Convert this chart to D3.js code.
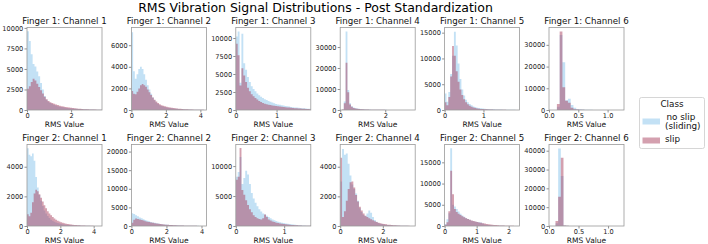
<!DOCTYPE html>
<html>
<head>
<meta charset="utf-8">
<script src="https://cdn.jsdelivr.net/npm/d3@7"></script>
<style>
body { margin: 0; background: #fff; }
svg { display: block; font-family: "DejaVu Sans", sans-serif; }
</style>
</head>
<body>
<div id="chart"></div>
<script>
// panel titles, row by row
var titles = ["Finger 1: Channel 1", "Finger 1: Channel 2", "Finger 1: Channel 3",
              "Finger 1: Channel 4", "Finger 1: Channel 5", "Finger 1: Channel 6",
              "Finger 2: Channel 1", "Finger 2: Channel 2", "Finger 2: Channel 3",
              "Finger 2: Channel 4", "Finger 2: Channel 5", "Finger 2: Channel 6"];
var classes = ["no slip (sliding)", "slip"];

// axis limits and ticks
var xMax = [3.4, 4.35, 1.84, 3.33, 1.93, 1.28, 4.5, 4.28, 1.55, 3.52, 2.34, 1.27];
var yMax = [10050, 7640, 11460, 39300, 16000, 38000, 5500, 21900, 13600, 5500, 19200, 43300];
var xTicks = [[0, 2], [0, 2, 4], [0, 1], [0, 2], [0, 1], [0, 0.5, 1],
              [0, 2, 4], [0, 2, 4], [0, 1], [0, 2], [0, 1, 2], [0, 0.5, 1]];
var yTicks = [[0, 2500, 5000, 7500, 10000], [0, 2000, 4000, 6000], [0, 2500, 5000, 7500, 10000],
              [0, 10000, 20000, 30000], [0, 5000, 10000, 15000], [0, 10000, 20000, 30000],
              [0, 2000, 4000], [0, 5000, 10000, 15000, 20000], [0, 5000, 10000],
              [0, 2000, 4000], [0, 5000, 10000, 15000], [0, 10000, 20000, 30000, 40000]];

// histogram bins: first edge and width
var binStart = [0, 0, 0, 0, 0, 0.135, 0, 0, 0, 0, 0, 0.11];
var binWidth = [0.085, 0.1, 0.046, 0.08, 0.048, 0.047, 0.1, 0.107, 0.039, 0.088, 0.0585, 0.045];

// counts per bin
var noSlipF1C1 = [9600,8400,6800,5600,5300,4700,4100,3300,2500,1700,1250,1000,850,720,620,540,470,410,360,320,280,250,220,200,180,160,140,125,110,100,90,80,70,62,55,48,40,35,30,25];
var slipF1C1 = [2600,2900,3400,3800,3600,3200,2800,2400,2000,1600,1300,1100,950,850,750,680,600,530,470,420,370,330,290,260,230,200,180,160,140,120,105,95,85,75,65,55,48,40,32,25];
var noSlipF1C2 = [7200,3600,2900,3300,3800,4000,3800,3300,2800,2300,1900,1500,1150,900,700,550,450,380,320,280,240,210,180,160,140,120,105,92,80,70,60,52,45,40,35,30,26,22,19,16,14,12,10];
var slipF1C2 = [1750,1500,1450,1700,2000,2300,2400,2300,2150,1900,1650,1400,1150,950,780,640,530,450,390,340,300,260,230,200,180,160,140,120,105,92,80,70,60,52,45,38,32,28,24,20,16,13,10];
var noSlipF1C3 = [10200,10900,3800,10600,6500,5600,4600,3900,3300,2900,2600,2300,2050,1850,1650,1500,1380,1250,1130,1030,930,850,780,720,660,610,560,510,470,430,390,360,330,300,270,250,230,210,190,170];
var slipF1C3 = [9200,7600,3400,5800,4800,3900,3100,2600,2200,1900,1650,1450,1250,1100,980,880,800,730,680,630,590,550,510,480,450,420,390,360,330,300,280,260,240,220,200,180,160,145,130,115];
var noSlipF1C4 = [0,150,4000,37400,9500,3200,1800,1200,900,700,560,460,380,320,270,230,200,175,150,130,115,100,90,80,72,65,58,52,47,42,38,34,31,28,25,22,20,18,16,14,12,10];
var slipF1C4 = [0,200,3200,22500,8500,2600,1500,1000,750,600,480,400,330,280,240,200,175,150,130,115,100,88,78,70,62,56,50,45,40,36,32,29,26,23,21,19,17,15,13,12,10,8];
var noSlipF1C5 = [3200,1600,3500,7000,10500,15200,12500,9000,6000,4000,2800,2000,1500,1150,900,700,560,460,380,320,280,240,210,185,160,140,125,110,95,85,75,65,58,50,44,38,33,28,24,20];
var slipF1C5 = [1500,900,2500,6500,12400,10500,7500,5500,4000,2900,2100,1500,1100,820,620,480,380,300,250,210,180,150,130,110,95,82,70,60,52,45,38,32,28,24,20,17,14,12,10,8];
var noSlipF1C6 = [1500,34500,22000,4500,5200,2300,1000,500,300,200,130,90,60,45,35,28,22,18,14,11,9,7,5,4];
var slipF1C6 = [2800,36200,10500,4300,3300,1000,400,200,120,80,50,35,25,18,14,10,8,6,5,4,3,2,2,1];
var noSlipF2C1 = [5250,4800,4700,4900,4400,3300,2600,2100,1700,1350,1050,850,680,540,430,350,290,240,200,170,145,125,105,90,78,66,56,48,41,35,30,26,22,19,16,14,12,10,8,7,6,5,4,3,2];
var slipF2C1 = [800,650,900,1600,2200,2450,2350,2150,1900,1650,1400,1200,1000,850,720,600,500,420,360,310,260,220,190,160,140,120,100,85,72,62,52,44,37,31,26,22,18,15,12,10,8,6,5,4,3];
var noSlipF2C2 = [3400,3200,2900,2600,2300,2050,1800,1600,1400,1250,1100,960,840,730,640,560,490,430,380,330,290,255,225,195,170,150,130,115,100,88,76,66,57,50,43,37,32,28,24,20];
var slipF2C2 = [900,1700,2000,1900,1750,1600,1450,1300,1150,1050,950,850,760,680,600,530,470,410,360,320,280,245,215,185,160,140,120,105,90,78,67,57,49,42,36,31,26,22,18,15];
var noSlipF2C3 = [8200,9000,11500,7000,8000,9200,8600,7000,5500,4600,3900,3300,2800,2400,2100,1900,1700,1500,1300,1100,950,820,720,630,560,490,430,370,320,280,240,200,170,140,115,95,75,60,45,35];
var slipF2C3 = [7700,8200,13000,6000,5200,4300,3500,2800,2300,1800,1500,1300,1150,1100,1300,1900,1500,1100,900,750,650,560,480,420,370,320,280,240,210,180,150,125,105,85,70,55,45,35,28,22];
var noSlipF2C4 = [3000,5200,4800,4900,4200,3400,2800,2500,2200,1700,1200,950,750,650,850,1050,900,600,400,280,200,160,130,105,85,70,58,48,40,33,27,22,18,15,12,10,8,6,5,4];
var slipF2C4 = [4600,600,1000,1700,2500,2950,3000,2600,2100,1650,1300,1050,850,700,600,520,450,380,320,270,220,185,155,130,110,92,77,64,53,44,36,30,25,20,16,13,10,8,6,5];
var noSlipF2C5 = [500,1600,3000,18300,5000,4600,4000,3400,2900,2500,2200,1900,1650,1450,1250,1100,1000,920,880,850,600,380,280,220,170,130,100,80,62,50,40,32,25,20,16,12,10,8,6,5];
var slipF2C5 = [300,900,3500,13000,7500,4000,3300,2900,2600,2300,2050,1850,1650,1480,1320,1180,1050,930,830,740,650,560,480,410,350,300,250,210,175,145,120,100,82,66,53,42,33,26,20,15];
var noSlipF2C6 = [1500,41200,26500,300,100,50,30,20,15,10,8,6,5,4,3,3,2,2,2,1,1,1,1,1,1];
var slipF2C6 = [2700,15500,36200,200,80,40,25,15,10,8,6,5,4,3,2,2,2,1,1,1,1,1,1,1,1];

var noSlip = [noSlipF1C1, noSlipF1C2, noSlipF1C3, noSlipF1C4, noSlipF1C5, noSlipF1C6,
              noSlipF2C1, noSlipF2C2, noSlipF2C3, noSlipF2C4, noSlipF2C5, noSlipF2C6];
var slip = [slipF1C1, slipF1C2, slipF1C3, slipF1C4, slipF1C5, slipF1C6,
            slipF2C1, slipF2C2, slipF2C3, slipF2C4, slipF2C5, slipF2C6];

var colors = ["rgba(135,195,235,0.5)", "rgba(170,65,95,0.5)"];

var svg = d3.select("#chart").append("svg")
            .attr("width", 708)
            .attr("height", 244);

svg.append("text")
   .attr("x", 315.5)
   .attr("y", 12)
   .attr("text-anchor", "middle")
   .attr("font-size", 12.5)
   .attr("fill", "#000")
   .text("RMS Vibration Signal Distributions - Post Standardization");

var panelW = 75;
var rowTop = [27.5, 144.5];
var rowBottom = [110, 226];

for (var i = 0; i < 12; i++) {
	drawPanel(i);
}

function drawPanel(i) {
	var row = Math.floor(i / 6), col = i % 6;
	var left = 27 + col * 104.4;
	var top = rowTop[row], bottom = rowBottom[row];

	var x = d3.scaleLinear().domain([0, xMax[i]]).range([left, left + panelW]);
	var y = d3.scaleLinear().domain([0, yMax[i]]).range([bottom, top]);

	var g = svg.append("g");

	svg.append("clipPath")
	   .attr("id", "clip" + i)
	   .append("rect")
	   .attr("x", left).attr("y", top)
	   .attr("width", panelW).attr("height", bottom - top);

	// each histogram is one stepped area, so bars sit flush without seams
	var series = [noSlip[i], slip[i]];
	series.forEach(function(vals, s) {
		var pts = vals.concat([vals[vals.length - 1]]);
		var area = d3.area()
		             .curve(d3.curveStepAfter)
		             .x(function(d, j){ return x(binStart[i] + j * binWidth[i]); })
		             .y0(bottom)
		             .y1(function(d){ return y(d); });
		g.append("path")
		 .datum(pts)
		 .attr("clip-path", "url(#clip" + i + ")")
		 .attr("d", area)
		 .attr("fill", colors[s]);
	});

	var fmt = xTicks[i].indexOf(0.5) >= 0 ? d3.format(".1f") : d3.format("d");

	var xa = g.append("g")
	          .attr("transform", "translate(0," + bottom + ")")
	          .call(d3.axisBottom(x).tickValues(xTicks[i]).tickFormat(fmt).tickSize(2.5).tickPadding(0.5));
	var ya = g.append("g")
	          .attr("transform", "translate(" + left + ",0)")
	          .call(d3.axisLeft(y).tickValues(yTicks[i]).tickFormat(d3.format("d")).tickSize(2.5).tickPadding(1.2));

	[xa, ya].forEach(function(a){
		a.select(".domain").remove();
		a.attr("font-family", "DejaVu Sans").attr("font-size", 6.6);
		a.selectAll("line").attr("stroke", "#444").attr("stroke-width", 0.6);
		a.selectAll("text").attr("fill", "#222");
	});

	g.append("rect")
	 .attr("x", left).attr("y", top)
	 .attr("width", panelW).attr("height", bottom - top)
	 .attr("fill", "none")
	 .attr("stroke", "#999")
	 .attr("stroke-width", 0.8);

	g.append("text")
	 .attr("x", left + panelW / 2)
	 .attr("y", top - 3.2)
	 .attr("text-anchor", "middle")
	 .attr("font-size", 8.66)
	 .attr("fill", "#111")
	 .text(titles[i]);

	g.append("text")
	 .attr("x", left + panelW / 2)
	 .attr("y", bottom + 17)
	 .attr("text-anchor", "middle")
	 .attr("font-size", 7.5)
	 .attr("fill", "#111")
	 .text("RMS Value");
}

// legend
var lg = svg.append("g");
lg.append("rect")
  .attr("x", 639.5).attr("y", 97.5)
  .attr("width", 65).attr("height", 51)
  .attr("rx", 2)
  .attr("fill", "#fff")
  .attr("stroke", "#ccc")
  .attr("stroke-width", 0.8);
lg.append("text")
  .attr("x", 672).attr("y", 106.7)
  .attr("text-anchor", "middle")
  .attr("font-size", 8.8)
  .attr("fill", "#111")
  .text("Class");

var swatchY = [121.5, 140.5];
classes.forEach(function(c, k) {
	lg.append("rect")
	  .attr("x", 642.5).attr("y", swatchY[k] - 3)
	  .attr("width", 17.5).attr("height", 6)
	  .attr("fill", colors[k]);
	var words = k === 0 ? ["no slip", "(sliding)"] : [c];
	var t = lg.append("text")
	          .attr("font-size", 8.8)
	          .attr("fill", "#111");
	words.forEach(function(w, n) {
		t.append("tspan")
		 .attr("x", n === 0 && k === 0 ? 666.5 : 665)
		 .attr("y", k === 0 ? 119.5 + n * 9 : 141.5)
		 .text(w);
	});
});
</script>
</body>
</html>
